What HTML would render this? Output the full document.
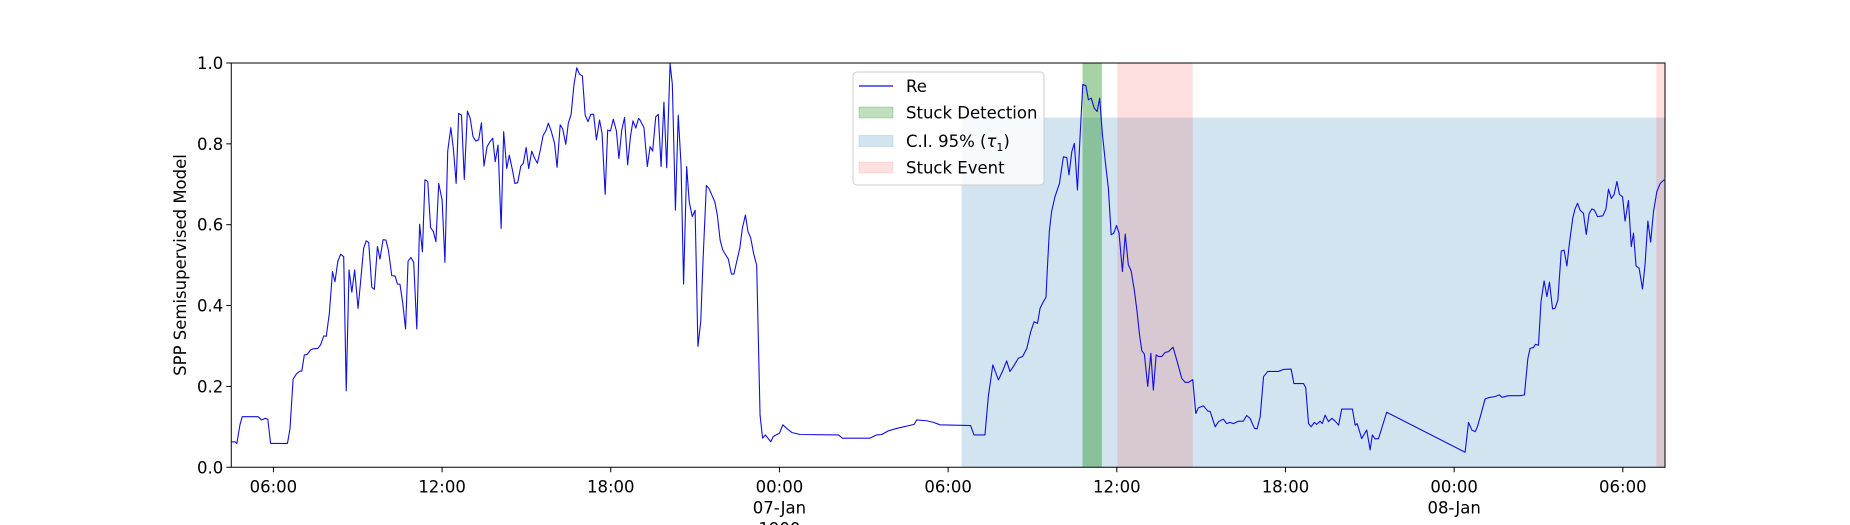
<!DOCTYPE html>
<html><head><meta charset="utf-8"><style>
html,body{margin:0;padding:0;background:#fff;}
svg{display:block;font-family:"DejaVu Sans","Liberation Sans",sans-serif;}
</style></head><body>
<svg id="chart" width="1850" height="525" viewBox="0 0 1850 525">
<g id="spans"></g>
<g id="series"></g>
<g id="axes"></g>
<g id="legend"></g>
</svg>
<script>
const times = [4.52,4.63,4.70,4.81,4.89,5.46,5.58,5.70,5.80,5.90,6.50,6.59,6.70,6.83,6.95,7.01,7.10,7.20,7.32,7.42,7.58,7.68,7.79,7.88,7.99,8.10,8.19,8.29,8.39,8.50,8.59,8.69,8.79,8.89,9.01,9.09,9.21,9.30,9.39,9.50,9.59,9.70,9.79,9.90,10.00,10.09,10.21,10.33,10.41,10.50,10.60,10.70,10.79,10.89,10.99,11.10,11.20,11.30,11.39,11.49,11.59,11.69,11.78,11.88,12.00,12.10,12.20,12.31,12.40,12.50,12.59,12.69,12.79,12.90,13.00,13.10,13.20,13.30,13.40,13.49,13.60,13.69,13.80,13.89,13.99,14.10,14.19,14.30,14.39,14.50,14.59,14.69,14.80,14.89,14.99,15.08,15.19,15.28,15.39,15.50,15.59,15.69,15.78,15.88,16.00,16.09,16.20,16.29,16.40,16.49,16.59,16.69,16.79,16.89,16.99,17.09,17.19,17.29,17.39,17.49,17.60,17.69,17.80,17.89,17.99,18.09,18.20,18.29,18.39,18.49,18.60,18.70,18.79,18.89,18.99,19.04,19.18,19.30,19.40,19.49,19.60,19.69,19.79,19.89,19.99,20.11,20.19,20.30,20.40,20.50,20.59,20.70,20.79,20.90,21.00,21.10,21.20,21.29,21.40,21.49,21.70,21.79,21.89,21.98,22.09,22.18,22.29,22.38,22.48,22.59,22.68,22.79,22.88,22.98,23.08,23.19,23.31,23.40,23.50,23.59,23.69,23.78,23.88,24.00,24.12,24.26,24.44,24.73,26.10,26.24,27.22,27.46,27.64,27.87,28.17,28.79,28.88,29.24,29.48,29.71,30.80,30.92,31.31,31.43,31.59,31.79,31.94,32.08,32.20,32.32,32.50,32.65,32.80,32.94,33.06,33.18,33.27,33.39,33.48,33.53,33.60,33.68,33.80,33.96,34.10,34.22,34.30,34.40,34.49,34.60,34.69,34.79,34.90,34.99,35.09,35.20,35.30,35.39,35.49,35.61,35.70,35.80,35.89,35.99,36.08,36.20,36.30,36.41,36.51,36.63,36.72,36.81,36.89,36.98,37.10,37.21,37.30,37.40,37.48,37.60,37.72,37.84,38.00,38.13,38.31,38.43,38.55,38.70,38.81,38.90,39.08,39.24,39.32,39.50,39.62,39.79,39.91,40.03,40.15,40.33,40.50,40.62,40.74,40.90,40.99,41.10,41.22,41.37,41.75,41.93,42.20,42.30,42.64,42.72,42.82,42.91,43.03,43.11,43.23,43.31,43.41,43.53,43.65,43.77,43.89,44.00,44.38,44.48,44.55,44.71,44.89,45.01,45.09,45.19,45.31,45.60,48.39,48.51,48.63,48.75,48.83,48.95,49.10,49.22,49.46,49.61,49.70,49.93,50.35,50.50,50.56,50.62,50.70,50.82,50.89,51.00,51.09,51.20,51.30,51.39,51.50,51.59,51.69,51.81,51.91,52.01,52.10,52.22,52.30,52.39,52.48,52.60,52.70,52.80,52.90,52.99,53.10,53.29,53.40,53.49,53.59,53.69,53.79,53.88,53.99,54.08,54.20,54.30,54.38,54.47,54.58,54.70,54.79,54.89,54.99,55.09,55.21,55.33,55.45,55.51];
const values = [.063,.063,.059,.105,.125,.125,.117,.121,.119,.059,.059,.096,.218,.232,.238,.238,.278,.279,.29,.293,.294,.303,.325,.324,.381,.484,.459,.509,.527,.521,.189,.488,.433,.488,.393,.451,.542,.560,.556,.445,.44,.546,.515,.563,.562,.537,.474,.473,.453,.453,.406,.342,.510,.519,.507,.342,.601,.533,.711,.707,.593,.583,.558,.702,.661,.507,.782,.840,.789,.702,.875,.871,.712,.881,.863,.818,.807,.81,.852,.745,.793,.804,.814,.756,.797,.591,.830,.739,.772,.736,.702,.704,.745,.752,.791,.739,.782,.766,.752,.787,.820,.832,.851,.832,.801,.742,.847,.837,.799,.851,.873,.946,.988,.972,.968,.871,.855,.873,.873,.81,.859,.826,.675,.834,.832,.861,.832,.764,.834,.865,.748,.818,.857,.839,.863,.859,.840,.744,.793,.782,.867,.873,.744,.903,.741,.999,.947,.636,.871,.748,.453,.744,.657,.620,.636,.299,.360,.525,.697,.690,.657,.624,.562,.538,.525,.515,.478,.478,.509,.542,.591,.624,.583,.567,.529,.500,.129,.072,.080,.072,.063,.076,.080,.084,.105,.096,.086,.081,.080,.072,.072,.080,.081,.09,.096,.106,.117,.115,.111,.105,.103,.080,.080,.175,.253,.216,.238,.263,.237,.249,.270,.274,.294,.336,.360,.356,.393,.410,.420,.492,.583,.632,.669,.702,.768,.766,.723,.781,.801,.686,.814,.947,.944,.909,.913,.888,.880,.913,.822,.744,.690,.575,.579,.598,.579,.484,.577,.501,.486,.435,.385,.327,.288,.280,.200,.282,.191,.278,.274,.274,.284,.286,.297,.266,.220,.210,.210,.217,.133,.147,.152,.139,.138,.100,.113,.119,.108,.111,.108,.114,.114,.128,.121,.096,.095,.125,.224,.237,.237,.242,.243,.207,.207,.197,.108,.100,.111,.106,.114,.108,.129,.113,.121,.114,.104,.144,.144,.104,.108,.071,.092,.043,.080,.070,.071,.136,.037,.111,.092,.088,.101,.130,.169,.172,.175,.179,.173,.177,.177,.179,.224,.268,.294,.296,.304,.302,.410,.461,.422,.458,.392,.393,.414,.535,.537,.498,.554,.617,.639,.653,.636,.628,.576,.628,.639,.636,.620,.622,.639,.688,.665,.675,.707,.675,.669,.609,.660,.546,.579,.498,.492,.441,.501,.609,.557,.632,.682,.702,.710,.710];
const ciSpan = [30.48, 55.5, 0.865];
const detectSpans = [[34.78, 35.47]];
const eventSpans = [[36.02, 38.70],[55.19, 55.5]];
const yTicks = [0,0.2,0.4,0.6,0.8,1.0];
const yTickLabels = ["0.0","0.2","0.4","0.6","0.8","1.0"];
const xTicks = [6,12,18,24,30,36,42,48,54];
const xTickLabels = ["06:00","12:00","18:00","00:00\n07-Jan\n1900","06:00","12:00","18:00","00:00\n08-Jan","06:00"];

const NS="http://www.w3.org/2000/svg";
const L=231.25,R=1665,T=63,B=467.25,X0=4.5,X1=55.5;
const xs=h=>L+(h-X0)/(X1-X0)*(R-L);
const ys=v=>B-v*(B-T);
function mk(tag,attrs,parent){const e=document.createElementNS(NS,tag);for(const k in attrs)e.setAttribute(k,attrs[k]);parent.appendChild(e);return e;}
const spans=document.getElementById('spans'),series=document.getElementById('series'),axes=document.getElementById('axes'),legend=document.getElementById('legend');

let ci=mk('rect',{x:xs(ciSpan[0]),y:ys(ciSpan[2]),width:xs(ciSpan[1])-xs(ciSpan[0]),height:B-ys(ciSpan[2]),fill:'#1f77b4','fill-opacity':0.2},spans);


eventSpans.forEach((s,i)=>{
  let r=mk('rect',{x:xs(s[0]),y:T,width:xs(s[1])-xs(s[0]),height:B-T,fill:'#ff0000','fill-opacity':0.12},spans);
  
  
});
detectSpans.forEach(s=>{
  let r=mk('rect',{x:xs(s[0]),y:T,width:xs(s[1])-xs(s[0]),height:B-T,fill:'#008000','fill-opacity':0.35},spans);
  
  
});
let d=times.map((t,i)=>(i?'L':'M')+xs(t).toFixed(2)+','+ys(values[i]).toFixed(2)).join('');
let ln=mk('path',{d:d,fill:'none',stroke:'#1010e0','stroke-width':1.1,'stroke-linejoin':'round'},series);



let fr=mk('rect',{x:L,y:T,width:R-L,height:B-T,fill:'none',stroke:'#000','stroke-width':1},axes);


yTicks.forEach((v,i)=>{
  mk('line',{x1:L-5,x2:L,y1:ys(v),y2:ys(v),stroke:'#000'},axes);
  let t=mk('text',{x:L-8,y:ys(v)+6,'text-anchor':'end','font-size':16.5,fill:'#000'},axes);
  t.textContent=yTickLabels[i];
  
  
});
xTicks.forEach((h,i)=>{
  mk('line',{x1:xs(h),x2:xs(h),y1:B,y2:B+5,stroke:'#000'},axes);
  let t=mk('text',{x:xs(h),y:B+25,'text-anchor':'middle','font-size':16.5,fill:'#000'},axes);
  
  
  xTickLabels[i].split('\n').forEach((s,j)=>{let sp=mk('tspan',{x:xs(h),dy:j?21:0},t);sp.textContent=s;});
});
let yl=mk('text',{x:0,y:0,transform:'translate(186,265) rotate(-90)','text-anchor':'middle','font-size':16.5,fill:'#000'},axes);
yl.textContent='SPP Semisupervised Model';



let lb=mk('rect',{x:853,y:72,width:191,height:113,rx:4,fill:'#fff','fill-opacity':0.8,stroke:'#cccccc'},legend);


const items=[['Re','line','#1010e0',1],['Stuck Detection','patch','#008000',0.25],['C.I. 95% (τ','patch','#1f77b4',0.2],['Stuck Event','patch','#ff0000',0.12]];
const rowsY=[86,112.5,141,167.5];
items.forEach((it,i)=>{
  const y=rowsY[i];
  let g=mk('g',{},legend);
  
  
  if(it[1]==='line') mk('line',{x1:859,x2:893,y1:y,y2:y,stroke:it[2],'stroke-width':1.2},g);
  else mk('rect',{x:859,y:y-5.5,width:34,height:11,fill:it[2],'fill-opacity':it[3],stroke:it[2],'stroke-opacity':it[3]*0.8},g);
  let t=mk('text',{x:906,y:y+6,'font-size':16.5,fill:'#000'},g);
  if(i===2){t.innerHTML='C.I. 95% (<tspan font-style="italic">τ</tspan><tspan font-size="11" dy="4">1</tspan><tspan dy="-4">)</tspan>';}
  else t.textContent=it[0];
});
</script>
</body></html>
